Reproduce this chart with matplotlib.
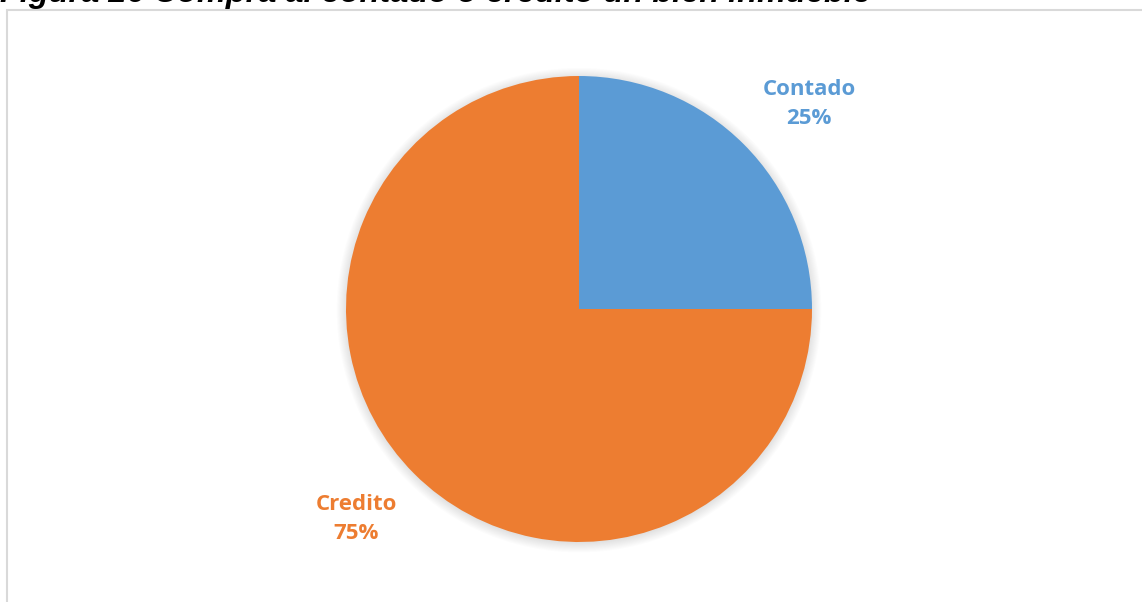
import numpy as np
import matplotlib
matplotlib.use("Agg")
import matplotlib.pyplot as plt
from matplotlib.patches import Rectangle, Circle

labels = ["Contado", "Credito"]
shares = [25, 75]
colors = ["#5B9BD5", "#ED7D31"]
title = "Figura 26 Compra al contado o credito un bien inmueble"

W, H = 1142, 602
fig = plt.figure(figsize=(W / 100, H / 100), dpi=100)

# chart frame (runs off the right and bottom edges)
fig.patches.append(Rectangle((7 / W, -0.05), 1.1, (H - 10) / H + 0.05,
                             transform=fig.transFigure, fill=False,
                             edgecolor="#D9D9D9", linewidth=1.5))

# caption, clipped at the top of the image
fig.text(0.0, (H - 2) / H, title, fontsize=23.4, fontweight="bold",
         fontstyle="italic", family="Liberation Sans", color="black",
         ha="left", va="baseline")

cx, cy, r = 579, 309, 233
pad = 1.08
ax = fig.add_axes([(cx - r * pad) / W, (H - cy - r * pad) / H,
                   2 * r * pad / W, 2 * r * pad / H])

# soft glow around the pie
for rr in np.linspace(1.04, 1.0, 10):
    ax.add_patch(Circle((0, -0.005), rr, color="black", alpha=0.011,
                        linewidth=0, zorder=0))

wedges, _ = ax.pie(shares, colors=colors, startangle=90, counterclock=False,
                   wedgeprops=dict(linewidth=0))
for w in wedges:
    w.set_zorder(2)
ax.set_xlim(-pad, pad)
ax.set_ylim(-pad, pad)
ax.set_aspect("equal")
ax.axis("off")

label_pos = [(809, 104), (356, 519)]
for lab, v, c, (px, py) in zip(labels, shares, colors, label_pos):
    fig.text(px / W, 1 - py / H, f"{lab}\n{v}%", color=c, fontsize=16,
             fontweight="bold", family="Open Sans", ha="center", va="center",
             linespacing=1.55)

fig.savefig("out.png", dpi=100)
